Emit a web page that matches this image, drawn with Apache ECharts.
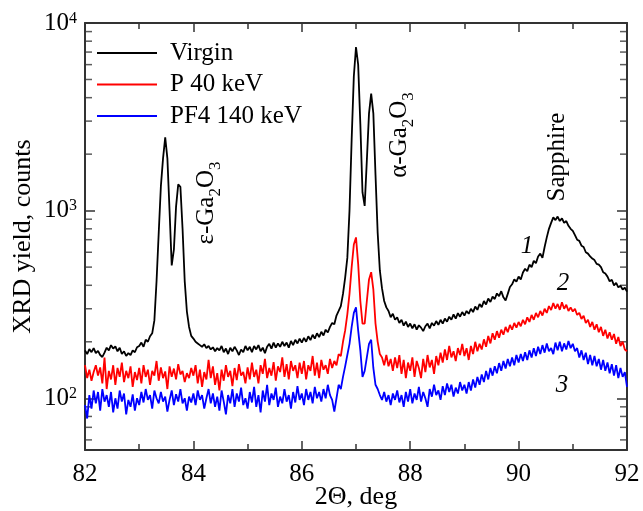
<!DOCTYPE html>
<html><head><meta charset="utf-8">
<script src="https://cdn.jsdelivr.net/npm/echarts@6/dist/echarts.min.js"></script>
<style>html,body{margin:0;padding:0;background:#fff}#c{width:643px;height:511px}</style>
</head><body><div id="c"></div>
<script>
// 2Theta grid (deg)
const xs = [
82,82.04,82.08,82.12,82.16,82.2,82.24,82.28,82.32,82.36,82.4,82.44,82.48,82.52,82.56,82.6,82.64,82.68,82.72,82.76,82.8,82.84,82.88,82.92,82.96,
83,83.04,83.08,83.12,83.16,83.2,83.24,83.28,83.32,83.36,83.4,83.44,83.48,83.52,83.56,83.6,83.64,83.68,83.72,83.76,83.8,83.84,83.88,83.92,83.96,
84,84.04,84.08,84.12,84.16,84.2,84.24,84.28,84.32,84.36,84.4,84.44,84.48,84.52,84.56,84.6,84.64,84.68,84.72,84.76,84.8,84.84,84.88,84.92,84.96,
85,85.04,85.08,85.12,85.16,85.2,85.24,85.28,85.32,85.36,85.4,85.44,85.48,85.52,85.56,85.6,85.64,85.68,85.72,85.76,85.8,85.84,85.88,85.92,85.96,
86,86.04,86.08,86.12,86.16,86.2,86.24,86.28,86.32,86.36,86.4,86.44,86.48,86.52,86.56,86.6,86.64,86.68,86.72,86.76,86.8,86.84,86.88,86.92,86.96,
87,87.04,87.08,87.12,87.16,87.2,87.24,87.28,87.32,87.36,87.4,87.44,87.48,87.52,87.56,87.6,87.64,87.68,87.72,87.76,87.8,87.84,87.88,87.92,87.96,
88,88.04,88.08,88.12,88.16,88.2,88.24,88.28,88.32,88.36,88.4,88.44,88.48,88.52,88.56,88.6,88.64,88.68,88.72,88.76,88.8,88.84,88.88,88.92,88.96,
89,89.04,89.08,89.12,89.16,89.2,89.24,89.28,89.32,89.36,89.4,89.44,89.48,89.52,89.56,89.6,89.64,89.68,89.72,89.76,89.8,89.84,89.88,89.92,89.96,
90,90.04,90.08,90.12,90.16,90.2,90.24,90.28,90.32,90.36,90.4,90.44,90.48,90.52,90.56,90.6,90.64,90.68,90.72,90.76,90.8,90.84,90.88,90.92,90.96,
91,91.04,91.08,91.12,91.16,91.2,91.24,91.28,91.32,91.36,91.4,91.44,91.48,91.52,91.56,91.6,91.64,91.68,91.72,91.76,91.8,91.84,91.88,91.92,91.96,92
];
// curve 1: Virgin
const virgin = [
180,172,183,176,185,174,179,170,166,175,186,180,192,184,189,178,186,172,178,168,174,170,180,176,187,
190,198,188,205,200,214,222,260,420,760,1350,1900,2460,1900,1000,510,620,1050,1380,1340,800,420,290,240,215,
208,200,196,192,188,194,185,190,182,187,178,185,180,190,176,184,172,186,178,188,180,170,182,176,190,
180,188,176,190,182,192,178,186,174,188,195,184,198,186,196,188,200,190,198,186,202,192,205,196,208,
198,210,200,214,204,218,208,222,212,226,216,232,224,240,252,248,276,292,310,360,440,560,1000,2400,5200,
7450,6000,2900,1250,1060,1850,3300,4200,3300,1550,760,480,385,330,305,292,270,282,262,270,252,262,244,256,240,
250,236,248,232,245,238,228,242,250,236,252,244,258,246,262,250,266,256,272,262,280,266,284,272,288,
276,292,282,300,288,308,296,318,306,330,316,340,326,348,338,362,350,372,345,332,360,392,405,430,418,
445,430,468,490,476,515,500,540,525,570,590,560,640,720,800,860,920,890,930,880,910,860,880,830,800,
780,740,700,690,650,640,600,590,570,555,545,520,515,500,470,462,445,420,428,400,412,390,398,380,388,370
];
// curve 2: P 40 keV
const p40 = [
150,128,142,124,138,150,132,146,120,165,112,140,126,150,118,145,130,155,122,140,128,148,115,138,125,
145,120,150,130,142,118,140,132,158,124,146,128,139,112,148,130,144,126,152,134,140,122,136,128,145,
132,150,120,142,115,138,126,160,128,148,118,136,110,142,124,150,130,140,116,145,125,152,132,138,120,
146,126,155,130,142,120,150,135,162,128,145,132,156,124,148,138,165,130,152,126,158,140,150,128,155,
135,158,126,150,140,168,132,155,128,160,142,150,135,162,145,158,150,172,168,200,230,280,360,500,660,
720,520,330,250,250,330,430,470,380,250,200,172,165,150,170,148,162,140,165,145,170,135,160,128,155,
140,165,130,158,145,128,162,138,170,146,160,135,168,150,175,155,182,160,190,165,178,158,185,170,195,
168,185,160,190,172,200,178,195,182,206,188,215,196,222,205,228,210,232,218,240,225,246,232,252,238,
255,242,262,248,270,255,278,262,285,270,292,276,300,285,310,295,322,300,318,296,325,300,315,292,305,
290,300,278,285,265,275,252,262,240,255,232,248,225,240,215,232,208,225,205,220,195,212,190,200,182,178
];
// curve 3: PF4 140 keV
const pf4 = [
92,78,104,88,110,94,108,86,112,96,104,90,108,84,100,88,110,96,106,82,98,90,105,86,100,
92,108,95,112,98,104,88,110,100,94,108,96,102,85,98,110,92,105,96,112,94,100,86,102,95,
106,92,110,98,104,88,100,112,94,106,90,102,86,110,96,82,104,94,112,90,106,96,114,92,100,
88,108,95,115,90,104,84,110,96,118,92,106,98,114,90,102,94,112,96,104,88,108,95,116,98,
106,92,112,98,108,94,115,100,108,96,112,100,118,104,98,85,100,118,112,130,148,170,195,240,285,
305,230,180,130,140,165,195,205,145,118,112,104,98,108,96,104,92,106,98,110,95,104,90,108,96,
112,94,106,98,115,96,108,100,90,112,102,118,104,110,98,116,104,120,108,118,102,114,106,122,110,
118,106,122,110,126,114,130,118,134,122,140,126,145,132,148,136,154,140,158,144,162,148,165,150,170,
155,172,158,176,160,180,165,185,168,188,172,192,175,196,178,185,172,198,180,200,178,196,182,202,185,
195,178,185,165,180,160,175,152,170,150,168,148,162,142,160,140,155,136,152,132,150,128,145,130,138,115
];
const seriesNames = ['Virgin', 'P 40 keV', 'PF4 140 keV'];
const seriesColors = ['#000000', '#ff0000', '#0000ff'];
const xMin = 82, xMax = 92, xStep = 2;
const yMin = 53, yMax = 10000;
const yMinorTicks = [60,70,80,90,200,300,400,500,600,700,800,900,2000,3000,4000,5000,6000,7000,8000,9000];

const FONT = 'Liberation Serif';
const AX = '#333333';
const pairs = ys => xs.map((x, i) => [x, ys[i]]);

const xBase = {
  type: 'value', min: xMin, max: xMax, interval: xStep,
  axisLine: { show: true, onZero: false, lineStyle: { color: AX, width: 2 } },
  axisTick: { show: true, inside: true, length: 9, lineStyle: { color: AX, width: 1.5 } },
  minorTick: { show: true, splitNumber: 2, length: 6, lineStyle: { color: AX, width: 1.5 } },
  splitLine: { show: false }, minorSplitLine: { show: false }
};
const yBase = {
  type: 'log', logBase: 10, min: yMin, max: yMax,
  axisLine: { show: true, onZero: false, lineStyle: { color: AX, width: 2 } },
  axisTick: { show: true, inside: true, length: 10, lineStyle: { color: AX, width: 1.5 } },
  minorTick: { show: false },
  splitLine: { show: false }, minorSplitLine: { show: false }
};

const isPow10 = v => Math.abs(Math.log10(v) - Math.round(Math.log10(v))) < 1e-6;

const lineSeries = [virgin, p40, pf4].map((ys, k) => ({
  type: 'line', name: seriesNames[k], data: pairs(ys),
  symbol: 'none', showSymbol: false, animation: false, z: 3,
  lineStyle: { color: seriesColors[k], width: 1.8 },
  itemStyle: { color: seriesColors[k] }
}));

const tickSeries = [
  { side: xMin, off: 3.5 }, { side: xMax, off: -3.5 }
].map(s => ({
  type: 'scatter', data: yMinorTicks.map(v => [s.side, v]),
  symbol: 'rect', symbolSize: [7, 1.5], symbolOffset: [s.off, 0],
  itemStyle: { color: AX }, silent: true, clip: false, animation: false, z: 2
}));

const sub = { fontFamily: FONT, fontSize: 17, lineHeight: 31, verticalAlign: 'bottom', fill: '#000' };
const mainTok = { fontFamily: FONT, fontSize: 25, lineHeight: 25, verticalAlign: 'top', fill: '#000' };

const option = {
  backgroundColor: '#ffffff',
  animation: false,
  grid: { left: 85, top: 23, right: 16, bottom: 61, containLabel: false, outerBoundsMode: 'none' },
  legend: {
    data: seriesNames, orient: 'vertical', left: 97, top: 39, padding: 0,
    icon: 'rect', itemWidth: 60, itemHeight: 2, itemGap: 3.5,
    textStyle: { fontFamily: FONT, fontSize: 25, color: '#000', lineHeight: 28, padding: [0, 0, 0, 8] }
  },
  xAxis: [
    Object.assign({}, xBase, {
      position: 'bottom',
      axisLabel: { fontFamily: FONT, fontSize: 25, color: '#000', margin: 12 },
      name: '2Θ, deg', nameLocation: 'middle', nameGap: 34, nameMoveOverlap: false,
      nameTextStyle: { fontFamily: FONT, fontSize: 26, color: '#000' }
    }),
    Object.assign({}, xBase, { position: 'top', axisLabel: { show: false } })
  ],
  yAxis: [
    Object.assign({}, yBase, {
      position: 'left',
      axisLabel: {
        margin: 8, color: '#000', fontFamily: FONT, fontSize: 25, showMinLabel: true,
        formatter: v => isPow10(v) ? '{b|10}{sup|' + Math.round(Math.log10(v)) + '}' : '',
        rich: {
          b: { fontFamily: FONT, fontSize: 25, lineHeight: 25, verticalAlign: 'bottom', color: '#000' },
          sup: { fontFamily: FONT, fontSize: 16, lineHeight: 16, verticalAlign: 'top', padding: [0, 0, 14, 0], color: '#000' }
        }
      },
      name: 'XRD yield, counts', nameLocation: 'middle', nameGap: 49, nameMoveOverlap: false,
      nameTextStyle: { fontFamily: FONT, fontSize: 26, color: '#000' }
    }),
    Object.assign({}, yBase, { position: 'right', axisLabel: { show: false } })
  ],
  series: lineSeries.concat(tickSeries),
  graphic: [
    { type: 'text', x: 209, y: 203, rotation: Math.PI / 2, silent: true,
      style: { text: '{m|ε-Ga}{s|2}{m|O}{s|3}', align: 'center', verticalAlign: 'middle', rich: { m: mainTok, s: sub } } },
    { type: 'text', x: 402, y: 135, rotation: Math.PI / 2, silent: true,
      style: { text: '{m|α-Ga}{s|2}{m|O}{s|3}', align: 'center', verticalAlign: 'middle', rich: { m: mainTok, s: sub } } },
    { type: 'text', x: 557, y: 157, rotation: Math.PI / 2, silent: true,
      style: { text: 'Sapphire', fontFamily: FONT, fontSize: 25, fill: '#000', align: 'center', verticalAlign: 'middle' } },
    { type: 'text', x: 527, y: 246, silent: true,
      style: { text: '1', fontFamily: FONT, fontStyle: 'italic', fontSize: 25, fill: '#000', align: 'center', verticalAlign: 'middle' } },
    { type: 'text', x: 563, y: 283, silent: true,
      style: { text: '2', fontFamily: FONT, fontStyle: 'italic', fontSize: 25, fill: '#000', align: 'center', verticalAlign: 'middle' } },
    { type: 'text', x: 562, y: 385, silent: true,
      style: { text: '3', fontFamily: FONT, fontStyle: 'italic', fontSize: 25, fill: '#000', align: 'center', verticalAlign: 'middle' } }
  ]
};

const chart = echarts.init(document.getElementById('c'), null, { renderer: 'canvas' });
chart.setOption(option);
</script>
</body></html>
